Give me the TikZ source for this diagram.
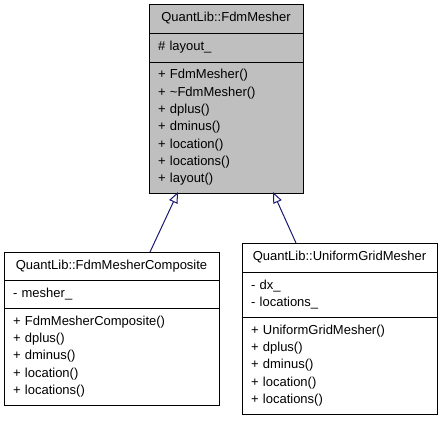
\documentclass[tikz,border=0pt]{standalone}
\usepackage{fontspec}
\setmainfont{Liberation Sans}
\usetikzlibrary{positioning,arrows.meta}
\definecolor{edgeblue}{HTML}{191970}
\definecolor{classgray}{HTML}{BFBFBF}

\begin{document}
\begin{tikzpicture}[x=1pt, y=-1pt,
    part/.style={draw, line width=1pt, inner sep=0pt, outer sep=0pt,
        font=\fontsize{13}{17.3}\selectfont},
    title/.style={part, align=center, minimum width=#1},
    list/.style={part, align=left, inner xsep=9pt, text width=#1-18pt},
    inherit/.style={draw=edgeblue, line width=1pt, -{Triangle[open, length=11pt, width=9pt]}},
    node distance=0pt]
    \useasboundingbox (0,0) rectangle (443,421);
    % base class
    \node[title=154pt, fill=classgray, minimum height=29pt, anchor=north west] (mesher) at (149,4) {QuantLib::FdmMesher};
    \node[list=154pt, fill=classgray, minimum height=29pt, below=of mesher] (mesherAttr) {\# layout\_};
    \node[list=154pt, fill=classgray, minimum height=131pt, below=of mesherAttr] (mesherOps) {+ FdmMesher()\\
        + \textasciitilde FdmMesher()\\
        + dplus()\\
        + dminus()\\
        + location()\\
        + locations()\\
        + layout()};
    % derived classes
    \node[title=215pt, minimum height=28pt, anchor=north west] (composite) at (4,252) {QuantLib::FdmMesherComposite};
    \node[list=215pt, minimum height=28pt, below=of composite] (compositeAttr) {- mesher\_};
    \node[list=215pt, minimum height=97pt, below=of compositeAttr] (compositeOps) {+ FdmMesherComposite()\\
        + dplus()\\
        + dminus()\\
        + location()\\
        + locations()};
    \node[title=195pt, minimum height=29pt, anchor=north west] (uniform) at (242,243) {QuantLib::UniformGridMesher};
    \node[list=195pt, minimum height=45pt, below=of uniform] (uniformAttr) {- dx\_\\
        - locations\_};
    \node[list=195pt, minimum height=97pt, below=of uniformAttr] (uniformOps) {+ UniformGridMesher()\\
        + dplus()\\
        + dminus()\\
        + location()\\
        + locations()};
    \draw[inherit] ([xshift=38.5pt]composite.north) -- ([xshift=-48pt,yshift=1pt]mesherOps.south);
    \draw[inherit] ([xshift=-43.5pt]uniform.north) -- ([xshift=47pt,yshift=1pt]mesherOps.south);
\end{tikzpicture}
\end{document}
